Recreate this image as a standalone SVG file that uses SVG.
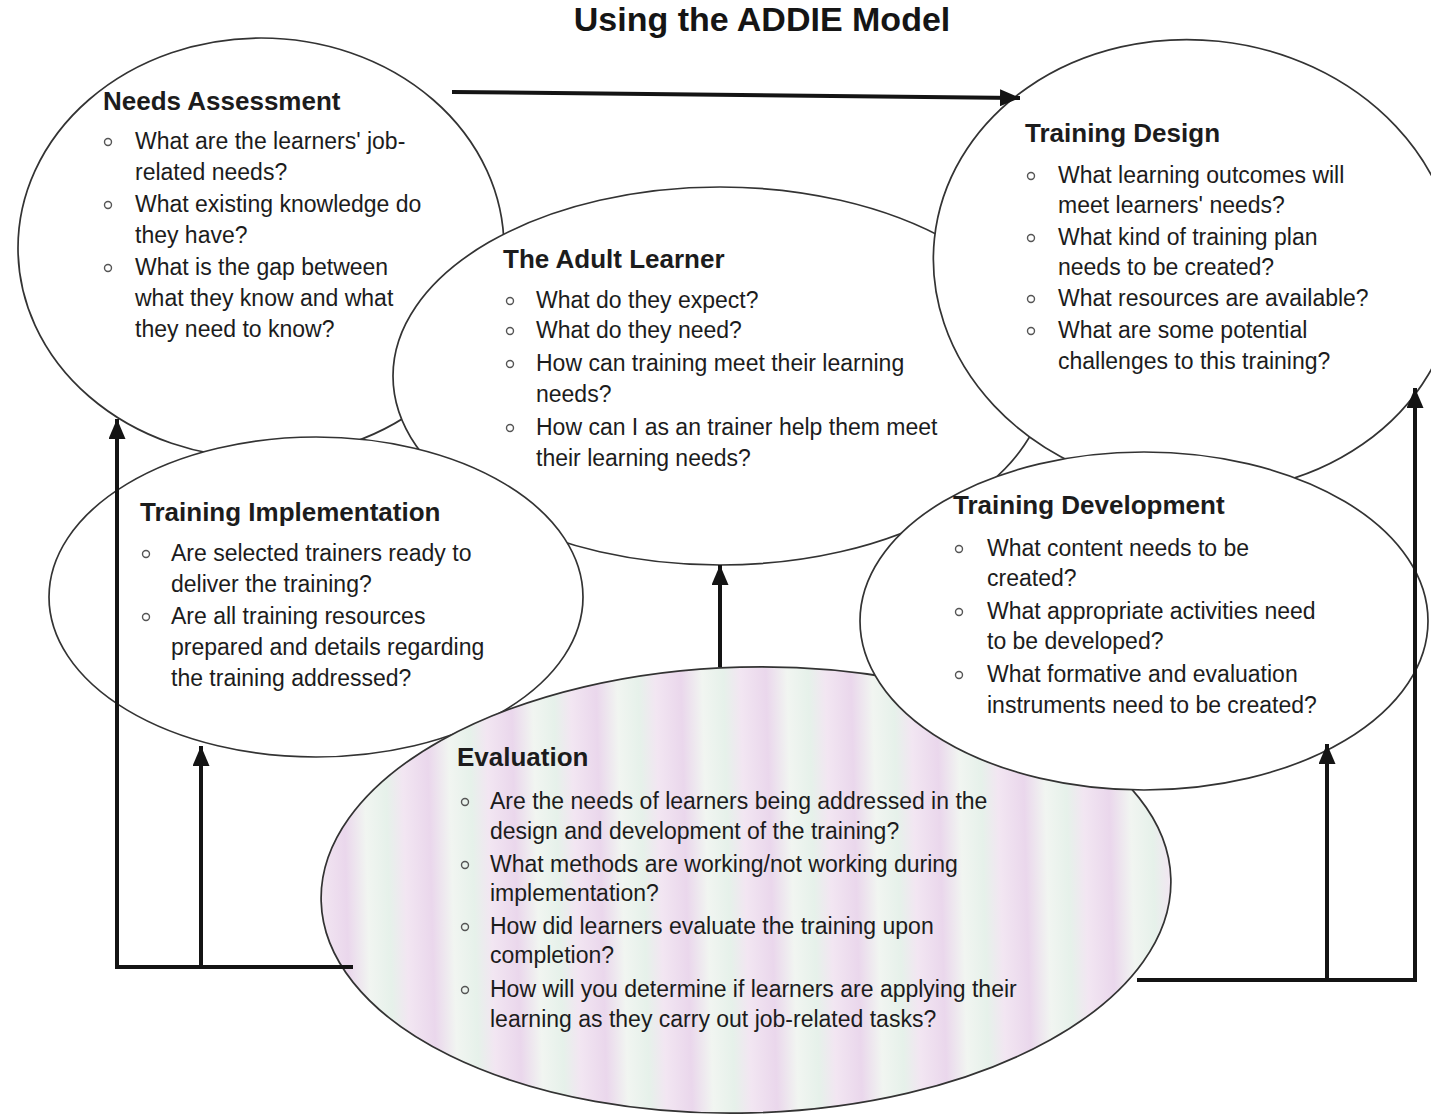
<svg xmlns="http://www.w3.org/2000/svg" width="1431" height="1115" viewBox="0 0 1431 1115">
  <style>
    .bubble { fill: #ffffff; stroke: #333333; stroke-width: 1.7; }
    .eval { fill: url(#pastel); stroke: #333333; stroke-width: 1.7; }
    .head { font-family: "Liberation Sans", Arial, sans-serif; font-weight: bold; font-size: 26px; fill: #1c1c1c; }
    .txt { font-family: "Liberation Sans", Arial, sans-serif; font-size: 23px; fill: #1c1c1c; }
    .title { font-family: "Liberation Sans", Arial, sans-serif; font-weight: bold; font-size: 34px; fill: #151515; }
    .dot { fill: none; stroke: #555; stroke-width: 1.4; }
    .link { fill: none; stroke: #141414; stroke-width: 4; stroke-linejoin: miter; }
  </style>
  <defs>
    <linearGradient id="pastel" x1="0" y1="0" x2="0.1" y2="0" spreadMethod="repeat">
      <stop offset="0" stop-color="#f2e6f2"/>
      <stop offset="0.3" stop-color="#ead7ec"/>
      <stop offset="0.55" stop-color="#f1f5f1"/>
      <stop offset="0.8" stop-color="#e6f1ea"/>
      <stop offset="1" stop-color="#f2e6f2"/>
    </linearGradient>
    <marker id="head" markerUnits="userSpaceOnUse" markerWidth="20" markerHeight="17" refX="20" refY="8.5" orient="auto">
      <path d="M0,0 L20,8.5 L0,17 z" fill="#141414"/>
    </marker>
  </defs>

  <rect width="1431" height="1115" fill="#ffffff"/>

  <text class="title" x="762" y="31" text-anchor="middle">Using the ADDIE Model</text>

  <!-- Needs Assessment -->
  <g id="needs-assessment">
    <ellipse class="bubble" cx="261" cy="248" rx="243" ry="210"/>
    <text class="head" x="103" y="110">Needs Assessment</text>
    <circle class="dot" cx="108" cy="142" r="3.5"/>
    <circle class="dot" cx="108" cy="205" r="3.5"/>
    <circle class="dot" cx="108" cy="268" r="3.5"/>
    <text class="txt" x="135" y="149">What are the learners' job-</text>
    <text class="txt" x="135" y="180">related needs?</text>
    <text class="txt" x="135" y="212">What existing knowledge do</text>
    <text class="txt" x="135" y="243">they have?</text>
    <text class="txt" x="135" y="275">What is the gap between</text>
    <text class="txt" x="135" y="306">what they know and what</text>
    <text class="txt" x="135" y="337">they need to know?</text>
  </g>

  <!-- The Adult Learner -->
  <g id="adult-learner">
    <ellipse class="bubble" cx="720" cy="376" rx="327" ry="189"/>
    <text class="head" x="503" y="268">The Adult Learner</text>
    <circle class="dot" cx="510" cy="301" r="3.5"/>
    <circle class="dot" cx="510" cy="331" r="3.5"/>
    <circle class="dot" cx="510" cy="364" r="3.5"/>
    <circle class="dot" cx="510" cy="428" r="3.5"/>
    <text class="txt" x="536" y="308">What do they expect?</text>
    <text class="txt" x="536" y="338">What do they need?</text>
    <text class="txt" x="536" y="371">How can training meet their learning</text>
    <text class="txt" x="536" y="402">needs?</text>
    <text class="txt" x="536" y="435">How can I as an trainer help them meet</text>
    <text class="txt" x="536" y="466">their learning needs?</text>
  </g>

  <!-- Training Design -->
  <g id="training-design">
    <ellipse class="bubble" cx="1195" cy="266" rx="262" ry="226" transform="rotate(6 1195 266)"/>
    <text class="head" x="1025" y="142">Training Design</text>
    <circle class="dot" cx="1031" cy="176" r="3.5"/>
    <circle class="dot" cx="1031" cy="238" r="3.5"/>
    <circle class="dot" cx="1031" cy="299" r="3.5"/>
    <circle class="dot" cx="1031" cy="331" r="3.5"/>
    <text class="txt" x="1058" y="183">What learning outcomes will</text>
    <text class="txt" x="1058" y="213">meet learners' needs?</text>
    <text class="txt" x="1058" y="245">What kind of training plan</text>
    <text class="txt" x="1058" y="275">needs to be created?</text>
    <text class="txt" x="1058" y="306">What resources are available?</text>
    <text class="txt" x="1058" y="338">What are some potential</text>
    <text class="txt" x="1058" y="369">challenges to this training?</text>
  </g>

  <!-- Training Implementation -->
  <g id="training-implementation">
    <ellipse class="bubble" cx="316" cy="597" rx="267" ry="160"/>
    <text class="head" x="140" y="521">Training Implementation</text>
    <circle class="dot" cx="146" cy="554" r="3.5"/>
    <circle class="dot" cx="146" cy="617" r="3.5"/>
    <text class="txt" x="171" y="561">Are selected trainers ready to</text>
    <text class="txt" x="171" y="592">deliver the training?</text>
    <text class="txt" x="171" y="624">Are all training resources</text>
    <text class="txt" x="171" y="655">prepared and details regarding</text>
    <text class="txt" x="171" y="686">the training addressed?</text>
  </g>

  <!-- Evaluation -->
  <g id="evaluation">
    <ellipse class="eval" cx="746" cy="890" rx="425" ry="223" transform="rotate(-1.5 746 890)"/>
    <text class="head" x="457" y="766">Evaluation</text>
    <circle class="dot" cx="465" cy="802" r="3.5"/>
    <circle class="dot" cx="465" cy="865" r="3.5"/>
    <circle class="dot" cx="465" cy="927" r="3.5"/>
    <circle class="dot" cx="465" cy="990" r="3.5"/>
    <text class="txt" x="490" y="809">Are the needs of learners being addressed in the</text>
    <text class="txt" x="490" y="839">design and development of the training?</text>
    <text class="txt" x="490" y="872">What methods are working/not working during</text>
    <text class="txt" x="490" y="901">implementation?</text>
    <text class="txt" x="490" y="934">How did learners evaluate the training upon</text>
    <text class="txt" x="490" y="963">completion?</text>
    <text class="txt" x="490" y="997">How will you determine if learners are applying their</text>
    <text class="txt" x="490" y="1027">learning as they carry out job-related tasks?</text>
  </g>

  <!-- Training Development -->
  <g id="training-development">
    <ellipse class="bubble" cx="1144" cy="621" rx="284" ry="169"/>
    <text class="head" x="953" y="514">Training Development</text>
    <circle class="dot" cx="959" cy="549" r="3.5"/>
    <circle class="dot" cx="959" cy="612" r="3.5"/>
    <circle class="dot" cx="959" cy="675" r="3.5"/>
    <text class="txt" x="987" y="556">What content needs to be</text>
    <text class="txt" x="987" y="586">created?</text>
    <text class="txt" x="987" y="619">What appropriate activities need</text>
    <text class="txt" x="987" y="649">to be developed?</text>
    <text class="txt" x="987" y="682">What formative and evaluation</text>
    <text class="txt" x="987" y="713">instruments need to be created?</text>
  </g>

  <!-- Flow arrows -->
  <g id="connectors">
    <path class="link" d="M452,92 L1020,98" marker-end="url(#head)"/>
    <path class="link" d="M353,967 H117 V419" marker-end="url(#head)"/>
    <path class="link" d="M201,967 V746" marker-end="url(#head)"/>
    <path class="link" d="M720,667 V565" marker-end="url(#head)"/>
    <path class="link" d="M1137,980 H1415 V388" marker-end="url(#head)"/>
    <path class="link" d="M1327,980 V744" marker-end="url(#head)"/>
  </g>
</svg>
